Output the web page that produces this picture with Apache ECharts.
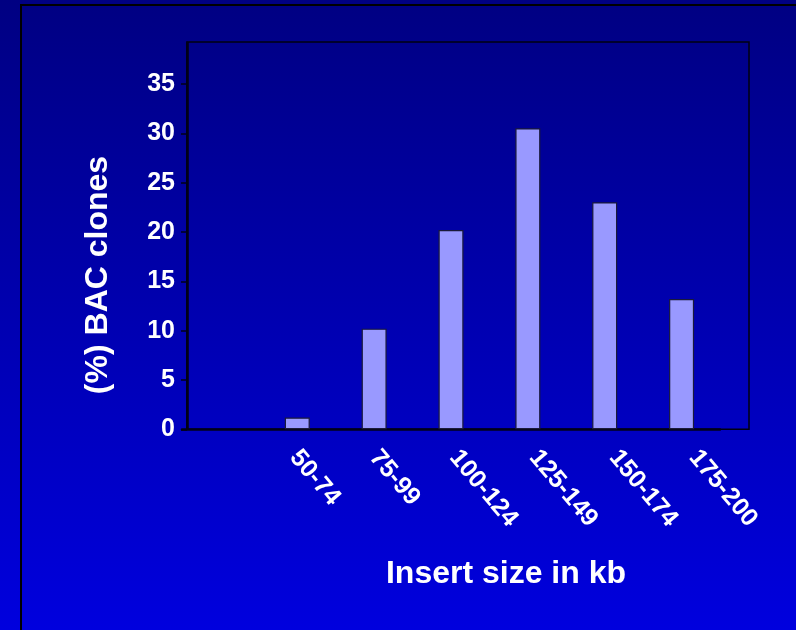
<!DOCTYPE html>
<html>
<head>
<meta charset="utf-8">
<script src="https://cdn.jsdelivr.net/npm/echarts@6/dist/echarts.min.js"></script>
<style>
  html, body { margin: 0; padding: 0; background: #0000a8; }
  #chart { width: 796px; height: 630px; }
</style>
</head>
<body>
<div id="chart"></div>
<script>
// Insert size classes (kb); the first slot is left empty on purpose
const categories = ['', '50-74', '75-99', '100-124', '125-149', '150-174', '175-200'];
// Share of BAC clones in each class (%)
const clonePercent = [null, 1.2, 10.2, 20.2, 30.5, 23.0, 13.2];
// Labelled ticks on the value axis
const yTickValues = [0, 5, 10, 15, 20, 25, 30, 35];

const FONT = '"Liberation Sans", Arial, sans-serif';
const PLOT_TOP = 42;
const PLOT_HEIGHT = 387.3;

const chart = echarts.init(document.getElementById('chart'), null, { renderer: 'canvas' });

chart.setOption({
  animation: false,
  backgroundColor: {
    type: 'linear', x: 0, y: 0, x2: 0, y2: 1,
    colorStops: [
      { offset: 0, color: '#000082' },
      { offset: 1, color: '#0000de' }
    ]
  },
  grid: [
    // bars
    { left: 182, top: PLOT_TOP, width: 538, height: PLOT_HEIGHT },
    // plot frame
    { left: 188, top: PLOT_TOP, width: 561, height: PLOT_HEIGHT, show: true,
      borderColor: '#000010', borderWidth: 1.5, backgroundColor: 'transparent' },
    // category labels, spread a little wider than the bars
    { left: 174.5, top: PLOT_TOP, width: 559, height: PLOT_HEIGHT }
  ],
  xAxis: [
    {
      type: 'category',
      gridIndex: 0,
      data: categories,
      boundaryGap: true,
      axisLine: { show: true, lineStyle: { color: '#000018', width: 2.5 } },
      axisTick: { show: false },
      axisLabel: { show: false },
      splitLine: { show: false }
    },
    { type: 'category', gridIndex: 1, show: false, data: categories },
    {
      type: 'category',
      gridIndex: 2,
      data: categories,
      boundaryGap: true,
      axisLine: { show: false },
      axisTick: { show: false },
      axisLabel: {
        rotate: -50,
        margin: 24,
        interval: 0,
        padding: [16, 0, 0, 0],
        color: '#ffffff',
        fontFamily: FONT,
        fontWeight: 'bold',
        fontSize: 25
      },
      splitLine: { show: false }
    }
  ],
  yAxis: [
    {
      type: 'value',
      gridIndex: 0,
      min: 0,
      max: 39.25,
      offset: -5,
      axisLine: { show: true, lineStyle: { color: '#000018', width: 2 } },
      axisTick: {
        show: true, length: 6, inside: false,
        customValues: yTickValues,
        lineStyle: { color: '#000018', width: 1.5 }
      },
      axisLabel: {
        customValues: yTickValues,
        margin: 12,
        color: '#ffffff',
        fontFamily: FONT,
        fontWeight: 'bold',
        fontSize: 25
      },
      splitLine: { show: false }
    },
    { type: 'value', gridIndex: 1, show: false, min: 0, max: 39.25 },
    { type: 'value', gridIndex: 2, show: false, min: 0, max: 39.25 }
  ],
  series: [
    {
      type: 'bar',
      xAxisIndex: 0,
      yAxisIndex: 0,
      data: clonePercent,
      barWidth: 25,
      itemStyle: {
        color: '#9999ff',
        borderColor: '#1a1a3a',
        borderWidth: 1.2
      }
    }
  ],
  graphic: [
    {
      type: 'rect',
      silent: true,
      shape: { x: 21, y: 5, width: 800, height: 700 },
      style: { fill: null, stroke: '#000000', lineWidth: 2 }
    },
    {
      type: 'text',
      x: 98, y: 275,
      rotation: Math.PI / 2,
      style: {
        text: '(%) BAC clones',
        fill: '#ffffff',
        font: 'bold 32px ' + FONT,
        align: 'center',
        verticalAlign: 'middle'
      }
    },
    {
      type: 'text',
      x: 506, y: 574,
      style: {
        text: 'Insert size in kb',
        fill: '#ffffff',
        font: 'bold 32px ' + FONT,
        align: 'center',
        verticalAlign: 'middle'
      }
    }
  ]
});
</script>
</body>
</html>
